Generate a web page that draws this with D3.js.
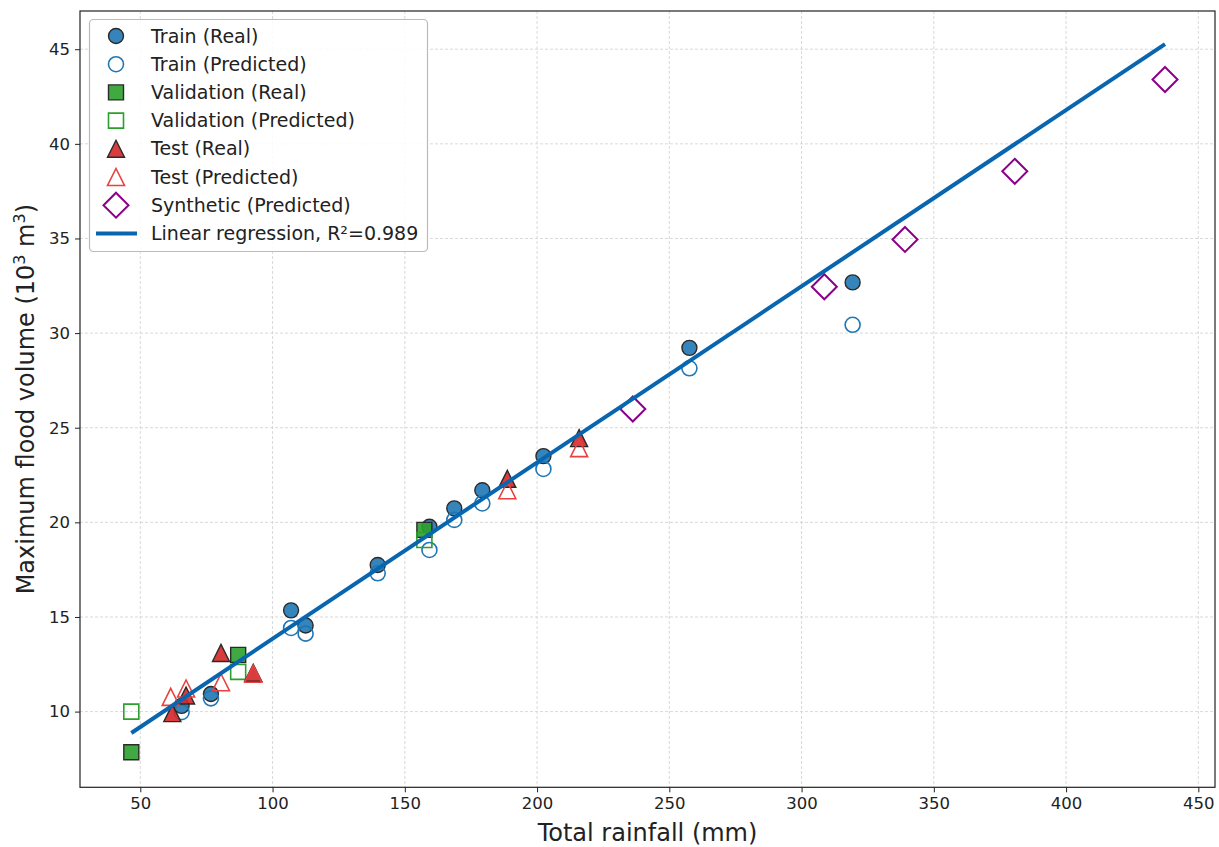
<!DOCTYPE html>
<html lang="en">
  <head>
    <meta charset="UTF-8" />
    <script src="https://d3js.org/d3.v7.min.js"></script>
    <style>
      body { margin: 0; background: #fff; }
      text { font-family: "DejaVu Sans", sans-serif; fill: #222; }
    </style>
    <title>Flood volume vs rainfall</title>
  </head>
  <body>
    <div id="chart"></div>
    <script>
      // data: [rainfall (mm), volume (10^3 m^3)]
      var trainReal = [[65.6, 10.3], [76.7, 10.93], [107, 15.35], [112.5, 14.55], [139.75, 17.75], [159.3, 19.77], [168.7, 20.74], [179.3, 21.7], [202.4, 23.5], [257.6, 29.22], [319.3, 32.68]];
      var trainPred = [[65.6, 9.97], [76.7, 10.7], [107, 14.42], [112.5, 14.12], [139.75, 17.31], [159.3, 18.54], [168.7, 20.13], [179.3, 21.0], [202.4, 22.82], [257.6, 28.14], [319.3, 30.44]];
      var valReal = [[46.6, 7.85], [87.0, 13.0], [157.4, 19.6]];
      var valPred = [[46.6, 10.0], [87.0, 12.1], [157.4, 19.07]];
      var testReal = [[62.1, 9.92], [67.3, 10.85], [80.5, 13.1], [92.7, 12.05], [188.75, 22.3], [215.9, 24.45]];
      var testPred = [[61.5, 10.78], [67.3, 11.22], [80.5, 11.55], [92.7, 12.0], [188.75, 21.7], [215.9, 23.92]];
      var synthPred = [[236.2, 25.99], [308.6, 32.45], [339.1, 34.95], [380.6, 38.55], [437.4, 43.4]];
      var regSlope = 0.09315, regIntercept = 4.53, r2 = "0.989";
      var xTicks = [50, 100, 150, 200, 250, 300, 350, 400, 450];
      var yTicks = [10, 15, 20, 25, 30, 35, 40, 45];

      var W = 1219, H = 847;
      var mLeft = 80, mTop = 11, mRight = 1215, mBottom = 787.3;

      var svg = d3.select("#chart").append("svg").attr("width", W).attr("height", H);

      var x = d3.scaleLinear().domain([27.2, 456.3]).range([mLeft, mRight]);
      var y = d3.scaleLinear().domain([6.0, 47.02]).range([mBottom, mTop]);

      // grid
      var grid = svg.append("g").attr("stroke", "#cfcfcf").attr("stroke-width", 0.8).attr("stroke-dasharray", "3,2");
      grid.selectAll(".gx").data(xTicks).enter().append("line")
        .attr("x1", d => x(d)).attr("x2", d => x(d)).attr("y1", mTop).attr("y2", mBottom);
      grid.selectAll(".gy").data(yTicks).enter().append("line")
        .attr("y1", d => y(d)).attr("y2", d => y(d)).attr("x1", mLeft).attr("x2", mRight);

      // axes
      var xAxis = svg.append("g").attr("transform", `translate(0,${mBottom})`)
        .call(d3.axisBottom(x).tickValues(xTicks).tickSize(5).tickPadding(5));
      var yAxis = svg.append("g").attr("transform", `translate(${mLeft},0)`)
        .call(d3.axisLeft(y).tickValues(yTicks).tickSize(5).tickPadding(5));
      [xAxis, yAxis].forEach(function (a) {
        a.select(".domain").remove();
        a.selectAll("line").attr("stroke", "#222").attr("stroke-width", 1);
        a.selectAll("text").style("font-family", "DejaVu Sans").style("font-size", "16.5px").attr("fill", "#222");
      });

      svg.append("rect").attr("x", mLeft).attr("y", mTop).attr("width", mRight - mLeft).attr("height", mBottom - mTop)
        .attr("fill", "none").attr("stroke", "#222").attr("stroke-width", 1.2);

      // axis labels
      svg.append("text").attr("x", (mLeft + mRight) / 2).attr("y", 841).attr("text-anchor", "middle")
        .style("font-size", "24px").text("Total rainfall (mm)");
      var yl = svg.append("text").attr("transform", "translate(34," + (mTop + mBottom) / 2 + ") rotate(-90)")
        .attr("text-anchor", "middle").style("font-size", "24px");
      yl.append("tspan").text("Maximum flood volume (10");
      yl.append("tspan").attr("baseline-shift", "super").style("font-size", "16px").text("3");
      yl.append("tspan").text(" m");
      yl.append("tspan").attr("baseline-shift", "super").style("font-size", "16px").text("3");
      yl.append("tspan").text(")");

      // marker shapes
      function tri(s) { return `M0,${-s}L${s},${s}L${-s},${s}Z`; }
      var shapes = {
        circle: d3.symbol().type(d3.symbolCircle).size(Math.PI * 7.5 * 7.5)(),
        square: d3.symbol().type(d3.symbolSquare).size(15 * 15)(),
        triangle: tri(8.5),
        diamond: "M0,-12.5L12.5,0L0,12.5L-12.5,0Z"
      };

      var series = [
        { name: "Train (Real)", data: trainReal, shape: "circle", fill: "#1f77b4", stroke: "#2a2a2a", sw: 1.4 },
        { name: "Train (Predicted)", data: trainPred, shape: "circle", fill: "none", stroke: "#1f77b4", sw: 1.6 },
        { name: "Validation (Real)", data: valReal, shape: "square", fill: "#2ca02c", stroke: "#2a2a2a", sw: 1.4 },
        { name: "Validation (Predicted)", data: valPred, shape: "square", fill: "none", stroke: "#2ca02c", sw: 1.6 },
        { name: "Test (Real)", data: testReal, shape: "triangle", fill: "#d62728", stroke: "#2a2a2a", sw: 1.4 },
        { name: "Test (Predicted)", data: testPred, shape: "triangle", fill: "none", stroke: "#e8413f", sw: 1.6 },
        { name: "Synthetic (Predicted)", data: synthPred, shape: "diamond", fill: "none", stroke: "#8b008b", sw: 2 }
      ];

      var plot = svg.append("g");
      series.forEach(function (s) {
        plot.append("g").selectAll("path").data(s.data).enter().append("path")
          .attr("d", shapes[s.shape])
          .attr("transform", d => `translate(${x(d[0])},${y(d[1])})`)
          .attr("fill", s.fill).attr("fill-opacity", s.fill === "none" ? null : 0.9)
          .attr("stroke", s.stroke).attr("stroke-width", s.sw);
      });

      // regression line across the data range
      var allX = [].concat(trainReal, valReal, testReal, synthPred).map(d => d[0]);
      var xr = d3.extent(allX);
      plot.append("line")
        .attr("x1", x(xr[0])).attr("y1", y(regSlope * xr[0] + regIntercept))
        .attr("x2", x(xr[1])).attr("y2", y(regSlope * xr[1] + regIntercept))
        .attr("stroke", "#0866b0").attr("stroke-width", 4);

      // legend
      var lg = svg.append("g");
      lg.append("rect").attr("x", 89.5).attr("y", 19.5).attr("width", 338).attr("height", 232).attr("rx", 4)
        .attr("fill", "#fff").attr("fill-opacity", 0.85).attr("stroke", "#bbb").attr("stroke-width", 1.2);
      var rowY = i => 36 + i * 28.2;
      series.forEach(function (s, i) {
        lg.append("path").attr("d", shapes[s.shape])
          .attr("transform", `translate(116,${rowY(i)})`)
          .attr("fill", s.fill).attr("fill-opacity", s.fill === "none" ? null : 0.9)
          .attr("stroke", s.stroke).attr("stroke-width", s.sw);
        lg.append("text").attr("x", 151).attr("y", rowY(i)).attr("dy", "0.35em")
          .style("font-size", "19px").text(s.name);
      });
      lg.append("line").attr("x1", 96).attr("x2", 137).attr("y1", rowY(7)).attr("y2", rowY(7))
        .attr("stroke", "#0866b0").attr("stroke-width", 4);
      lg.append("text").attr("x", 151).attr("y", rowY(7)).attr("dy", "0.35em")
        .style("font-size", "19px").text("Linear regression, R\u00b2=" + r2);
    </script>
  </body>
</html>
